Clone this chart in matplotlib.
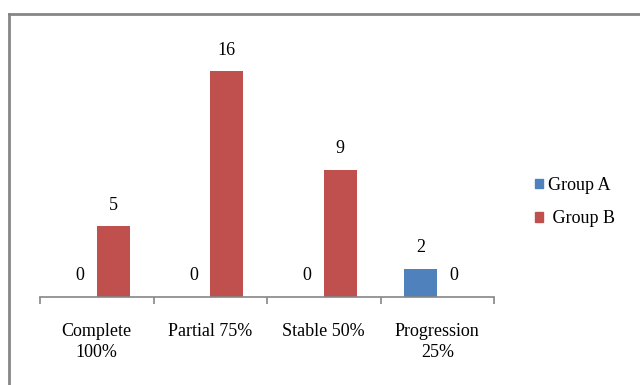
import numpy as np
import matplotlib.pyplot as plt
from matplotlib import rcParams
from matplotlib.patches import Patch
from matplotlib.lines import Line2D

rcParams['font.family'] = 'Liberation Serif'

# Data
categories = ['Complete\n100%', 'Partial 75%', 'Stable 50%', 'Progression\n25%']
group_a = [0, 0, 0, 2]
group_b = [5, 16, 9, 0]

blue = '#4F81BD'
red = '#C0504D'
gray = '#868686'

fig = plt.figure(figsize=(6.4, 3.85), dpi=100)
ax = fig.add_axes([0.0625, 0.2286, 0.7094, 0.6597])

x = np.arange(len(categories))
w = 0.29
bars_a = ax.bar(x - w / 2, group_a, w, color=blue)
bars_b = ax.bar(x + w / 2, group_b, w, color=red)

for bars in (bars_a, bars_b):
    for b in bars:
        ax.annotate(str(int(b.get_height())), (b.get_x() + b.get_width() / 2, b.get_height()),
                    xytext=(0, 9), textcoords='offset points', ha='center', va='bottom',
                    fontsize=13)

ax.set_xlim(-0.5, 3.5)
ax.set_ylim(0, 18)
for s in ('left', 'right', 'top'):
    ax.spines[s].set_visible(False)
ax.spines['bottom'].set_color(gray)
ax.spines['bottom'].set_linewidth(1.2)
ax.set_yticks([])

# boundary ticks, labels at centres
ax.set_xticks(np.arange(-0.5, 4, 1))
ax.set_xticklabels([])
ax.tick_params(axis='x', which='major', length=5, width=1.2, color=gray)
ax.set_xticks(x, minor=True)
ax.set_xticklabels(categories, minor=True, fontsize=13, linespacing=1.3)
ax.tick_params(axis='x', which='minor', length=0, pad=19)

handles = [Patch(color=blue), Patch(color=red)]
fig.legend(handles, ['Group A', ' Group B'], loc='center left',
           bbox_to_anchor=(0.81, 0.475), frameon=False, fontsize=13,
           handlelength=0.45, handleheight=0.45, handletextpad=0.3, labelspacing=0.92)

# chart area border (left and top edges visible)
fig.add_artist(Line2D([0.0133, 0.0133], [0, 0.9636], color=gray, lw=2, transform=fig.transFigure))
fig.add_artist(Line2D([0.0133, 1], [0.9636, 0.9636], color=gray, lw=2, transform=fig.transFigure))

plt.savefig('out.png', dpi=100)
